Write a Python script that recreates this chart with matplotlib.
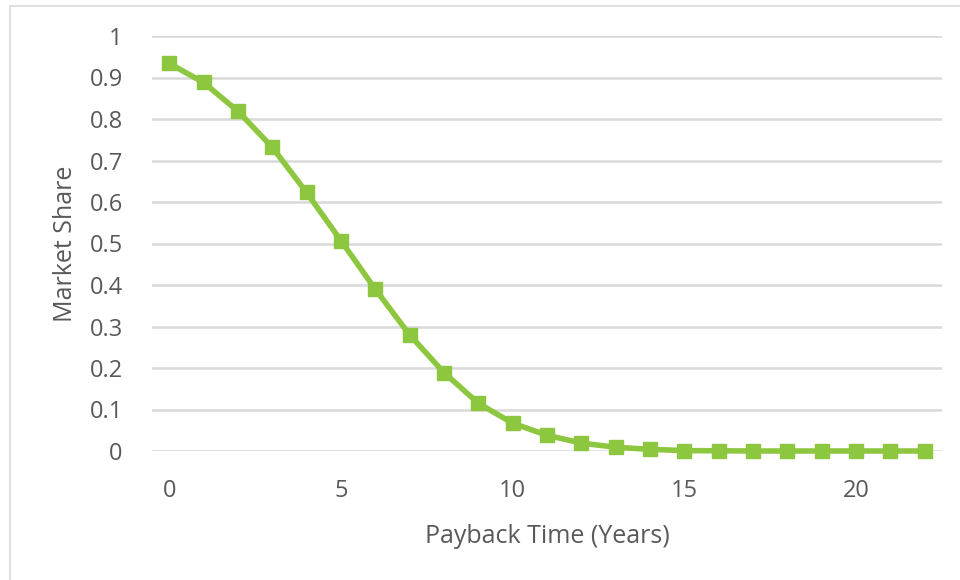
import matplotlib
matplotlib.use("Agg")
import matplotlib.pyplot as plt
from matplotlib.patches import Rectangle

years = list(range(0, 23))
market_share = [0.934, 0.888, 0.819, 0.732, 0.623, 0.507, 0.390, 0.280, 0.189,
                0.115, 0.067, 0.038, 0.019, 0.009, 0.004, 0.001, 0.0005, 0.0, 0.0,
                0.0, 0.0, 0.0, 0.0]
x_ticks = [0, 5, 10, 15, 20]
y_ticks = [0, 0.1, 0.2, 0.3, 0.4, 0.5, 0.6, 0.7, 0.8, 0.9, 1]
y_tick_labels = ["0", "0.1", "0.2", "0.3", "0.4", "0.5", "0.6", "0.7", "0.8", "0.9", "1"]

plt.rcParams['font.family'] = ['Open Sans', 'DejaVu Sans']
text_color = "#595959"
green = "#8DC63F"

fig = plt.figure(figsize=(9.6, 5.8), dpi=100)
fig.patches.append(Rectangle((10/960, -0.1), 1.2, 1 - 6/580 + 0.1, transform=fig.transFigure,
                             fill=False, edgecolor="#D9D9D9", linewidth=1.2))
ax = fig.add_axes([152/960, 1 - 451/580, (942 - 152)/960, (451 - 36)/580])

ax.plot(years, market_share, color=green, linewidth=4.0, marker="s", markersize=10,
        markerfacecolor=green, markeredgecolor=green, zorder=3, clip_on=False)

ax.set_xlim(-0.5, 22.5)
ax.set_ylim(0, 1)
ax.set_xticks(x_ticks)
ax.set_xticklabels([str(t) for t in x_ticks])
ax.set_yticks(y_ticks)
ax.set_yticklabels(y_tick_labels)
ax.grid(axis="y", color="#D9D9D9", linewidth=1.8, zorder=0)
ax.set_axisbelow(True)
for s in ax.spines.values():
    s.set_visible(False)
ax.tick_params(axis="both", length=0, labelsize=17, labelcolor=text_color)
ax.tick_params(axis="y", pad=21)
ax.tick_params(axis="x", pad=20)

ax.set_xlabel("Payback Time (Years)", fontsize=18, color=text_color, labelpad=15)
ax.set_ylabel("Market Share", fontsize=18, color=text_color, labelpad=8)

fig.savefig("out.png", dpi=100)
